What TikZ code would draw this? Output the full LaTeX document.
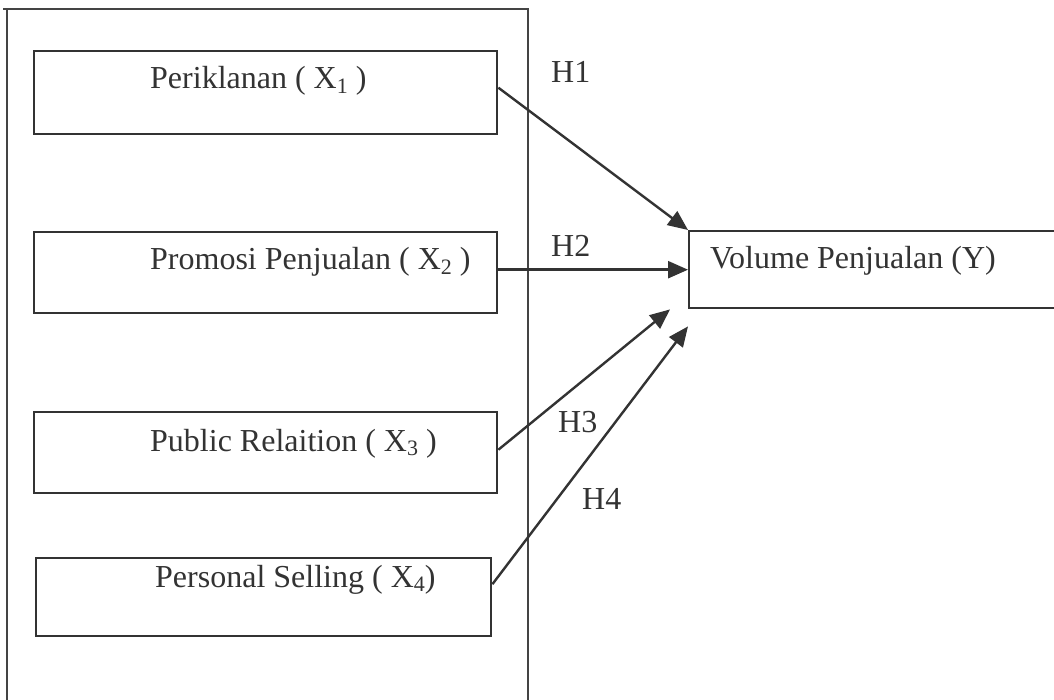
\documentclass[tikz,border=0pt]{standalone}
\usepackage{fontspec}
\setmainfont{Liberation Serif}
\usetikzlibrary{arrows.meta}
\definecolor{ink}{HTML}{333333}
\definecolor{framegray}{HTML}{444444}
\newcommand\subx[1]{\raisebox{-4.5pt}{\fontsize{22}{22}\selectfont #1}}
\begin{document}
\begin{tikzpicture}[x=1pt,y=-1pt,
  varbox/.style={draw=ink, line width=2.4pt, inner sep=0pt, anchor=north west},
  vartext/.style={anchor=base west, inner sep=0pt, text=ink, font=\fontsize{32}{38}\selectfont},
  hlabel/.style={anchor=base west, inner sep=0pt, text=ink, font=\fontsize{32}{38}\selectfont},
  conn/.style={draw=ink, line width=2.4pt, -{Triangle[length=20pt,width=17pt]}},
  framepath/.style={draw=framegray, line width=2.2pt}]
\useasboundingbox[fill=white] (0,0) rectangle (1054,700);
% outer frame
\draw[framepath] (3,9) -- (529,9);
\draw[framepath] (7,9) -- (7,702);
\draw[framepath] (528,10) -- (528,702);
% boxes
\node[varbox, minimum width=463pt, minimum height=83pt] (b1) at (33,50) {};
\node[varbox, minimum width=463pt, minimum height=81pt] (b2) at (33,231) {};
\node[varbox, minimum width=463pt, minimum height=81pt] (b3) at (33,411) {};
\node[varbox, minimum width=455pt, minimum height=78pt] (b4) at (35,557) {};
\node[varbox, minimum width=420pt, minimum height=77pt] (y) at (688,230) {};
% texts
\node[vartext] (t1) at (150,89) {Periklanan ( X\subx{1} )};
\node[vartext] (t2) at (150,270) {Promosi Penjualan ( X\subx{2} )};
\node[vartext] (t3) at (150,451) {Public Relaition ( X\subx{3} )};
\node[vartext] (t4) at (155,587) {Personal Selling ( X\subx{4})};
\node[vartext] (ty) at (710,269) {Volume Penjualan (Y)};
% hypothesis labels
\node[hlabel] (h1) at (551,83) {H1};
\node[hlabel] (h2) at (551,257) {H2};
\node[hlabel] (h3) at (558,432) {H3};
\node[hlabel] (h4) at (582,509) {H4};
% free ends
\coordinate (e3) at ([xshift=-18pt]y.south west);
\coordinate (e4) at ([yshift=-17pt]y.south west);
% connectors
\draw[conn] ([yshift=5pt]b1.east) -- (y.north west);
\draw[conn] (b2.east |- y.west) -- (y.west);
\draw[conn] ([yshift=3pt]b3.east) -- (e3);
\draw[conn] ([yshift=13pt]b4.east) -- (e4);
\end{tikzpicture}
\end{document}
